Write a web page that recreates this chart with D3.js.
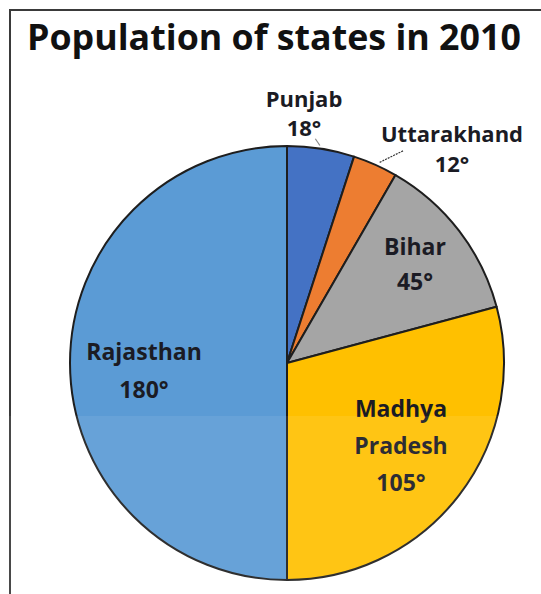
<!DOCTYPE html>
<html>
<head>
<meta charset="utf-8">
<script src="https://cdn.jsdelivr.net/npm/d3@7"></script>
<style>
  html, body { margin: 0; padding: 0; background: #fff; }
  svg { display: block; }
</style>
</head>
<body>
<div id="viz"></div>
<script>
// data (degrees of the pie)
var states  = ["Punjab", "Uttarakhand", "Bihar", "Madhya Pradesh", "Rajasthan"];
var degrees = [18, 12, 45, 105, 180];
var colors  = ["#4472C4", "#ED7D31", "#A5A5A5", "#FFC000", "#5B9BD5"];
// label lines as they are broken in the picture
var labelLines = [["Punjab"], ["Uttarakhand"], ["Bihar"], ["Madhya", "Pradesh"], ["Rajasthan"]];
var titleText = "Population of states in 2010";

var w = 541, h = 594;
var center = {x: 287, y: 363};
var radius = 217;

// label anchors: [offset x, offset y of first baseline, line gap, font size] from pie center
var labelLayout = [
  [17, -256, 29, 22],
  [165, -221, 30, 22],
  [128, -108, 35, 23],
  [114, 54, 37, 23],
  [-143, -3, 38, 23]
];

var svg = d3.select("#viz").append("svg")
  .attr("width", w)
  .attr("height", h);

// frame
svg.append("path")
  .attr("d", "M10," + (h + 5) + " L10,10 L" + (w + 5) + ",10")
  .attr("fill", "none")
  .attr("stroke", "#3a3a3a")
  .attr("stroke-width", 2);

// title, sized to span the same width as the picture
var title = svg.append("text")
  .attr("x", 27)
  .attr("y", 50)
  .style("font-family", "'Open Sans', sans-serif")
  .style("font-weight", "bold")
  .style("font-size", "32px")
  .attr("fill", "#111")
  .text(titleText);
var tl = title.node().getComputedTextLength();
title.style("font-size", (32 * 494 / tl) + "px");

var pie = d3.pie().sort(null).value(function(d) { return d; });
var arcs = pie(degrees);
var arc = d3.arc().innerRadius(0).outerRadius(radius);

var g = svg.append("g")
  .attr("transform", "translate(" + center.x + "," + center.y + ")");

g.selectAll("path.slice")
  .data(arcs)
  .enter().append("path")
  .attr("class", "slice")
  .attr("d", arc)
  .attr("fill", function(d, i) { return colors[i]; })
  .attr("stroke", "#1e1e1e")
  .attr("stroke-width", 2)
  .attr("stroke-linejoin", "round");

// leader lines for the two outside labels: [start deg, start r, end deg, end r]
function polar(deg, r) {
  var a = deg * Math.PI / 180;
  return [Math.sin(a) * r, -Math.cos(a) * r];
}
var leaders = [
  {pts: [8.6, radius + 3, 7.2, radius + 9], color: "#888", dash: null},
  {pts: [24.8, radius + 4, 28.7, radius + 25], color: "#333", dash: "2,1"}
];
leaders.forEach(function(l) {
  var p0 = polar(l.pts[0], l.pts[1]);
  var p1 = polar(l.pts[2], l.pts[3]);
  g.append("line")
    .attr("x1", p0[0]).attr("y1", p0[1])
    .attr("x2", p1[0]).attr("y2", p1[1])
    .attr("stroke", l.color)
    .attr("stroke-width", 1.2)
    .attr("stroke-dasharray", l.dash);
});

// labels
arcs.forEach(function(a, i) {
  var lay = labelLayout[i];
  var lines = labelLines[i].concat([degrees[i] + "°"]);
  var t = g.append("text")
    .attr("text-anchor", "middle")
    .style("font-family", "'Open Sans', sans-serif")
    .style("font-weight", "bold")
    .style("font-size", lay[3] + "px")
    .attr("fill", "#1b1b24");
  lines.forEach(function(s, k) {
    t.append("tspan")
      .attr("x", lay[0])
      .attr("y", lay[1] + k * lay[2])
      .text(s);
  });
});

// the picture is a little lighter in its lower part
svg.append("rect")
  .attr("x", 0)
  .attr("y", 416)
  .attr("width", w)
  .attr("height", h - 416)
  .attr("fill", "#fff")
  .attr("opacity", 0.08);
</script>
</body>
</html>
